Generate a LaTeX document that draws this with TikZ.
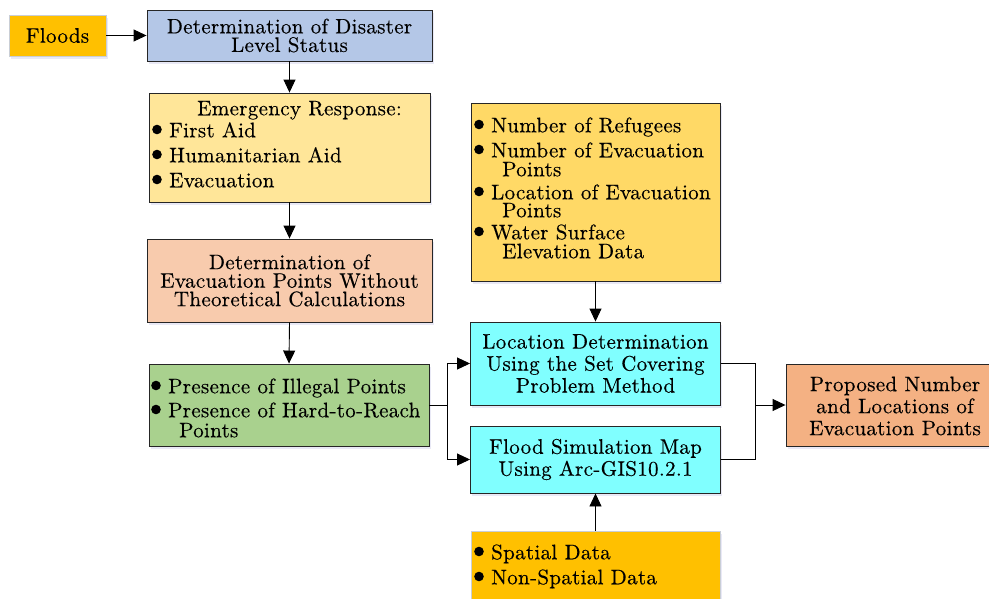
\documentclass[tikz,border=0pt]{standalone}
\usepackage{fontspec}
\setmainfont{lmroman10-regular.otf}[FakeBold=0.35, LetterSpace=1.5]
\usetikzlibrary{arrows.meta,shadows}
\definecolor{cFlood}{HTML}{FFC000}
\definecolor{cBlue}{HTML}{B4C7E7}
\definecolor{cEmer}{HTML}{FFE699}
\definecolor{cPeach}{HTML}{F8CBAD}
\definecolor{cGreen}{HTML}{A9D18E}
\definecolor{cYel}{HTML}{FFD966}
\definecolor{cCyan}{HTML}{80FFFF}
\definecolor{cProp}{HTML}{F4B183}
\definecolor{cEdge}{HTML}{C9CED6}
\newcommand\fz{\fontsize{21}{22}\selectfont}
\newcommand\fzt{\fontsize{21}{18.5}\selectfont}
\begin{document}
\begin{tikzpicture}[x=1pt,y=-1pt,
  box/.style={draw=black!85, line width=0.9pt, inner sep=0pt, align=center, font=\fz,
    drop shadow={opacity=0.12, shadow xshift=1.5pt, shadow yshift=-2.5pt, fill=blue!40!gray}},
  lbox/.style={box, draw=cEdge},
  lt/.style={anchor=west, inner sep=0pt, text height=15pt, text depth=2.5pt, font=\fz},
  dot/.style={fill=black},
  conn/.style={line width=0.9pt, draw=black},
  arr/.style={conn, -{Triangle[length=13pt,width=12pt]}}]
\useasboundingbox (0,0) rectangle (989,598);
\clip (0,0) rectangle (989,598);

% boxes
\node[lbox, fill=cFlood, minimum width=97pt, minimum height=41pt] (floods) at (57.5,35.5) {Floods};
\node[box, fill=cBlue, minimum width=285pt, minimum height=51pt, font=\fzt] (det) at (289.5,35.5) {Determination of Disaster\\Level Status};
\node[box, fill=cEmer, minimum width=281pt, minimum height=109pt] (emer) at (289.5,147.5) {};
\node[box, fill=cPeach, minimum width=285pt, minimum height=83pt, font=\fzt] (devac) at (289.5,280.5) {Determination of\\Evacuation Points Without\\Theoretical Calculations};
\node[box, fill=cGreen, minimum width=280pt, minimum height=82pt] (green) at (289,405) {};
\node[box, fill=cYel, minimum width=249pt, minimum height=178pt] (ydata) at (595.5,192) {};
\node[box, fill=cCyan, minimum width=250pt, minimum height=83pt] (loc) at (595.5,363.5) {Location Determination\\Using the Set Covering\\Problem Method};
\node[box, fill=cCyan, minimum width=250pt, minimum height=67pt] (flood) at (595.5,459.5) {Flood Simulation Map\\Using Arc-GIS10.2.1};
\node[lbox, fill=cFlood, minimum width=249pt, minimum height=80pt] (spatial) at (595.5,571) {};
\node[box, fill=cProp, minimum width=215pt, minimum height=82pt] (prop) at (893.5,405) {};
\node[align=center, inner sep=0pt, font=\fz] (proptxt) at (895,406) {Proposed Number\\and Locations of\\Evacuation Points};

% list texts
\node[lt, anchor=center] (emt) at (299.5,109) {Emergency Response:};
\node[lt] (e1) at (169,131) {First Aid};
\node[lt] (e2) at (169,156) {Humanitarian Aid};
\node[lt] (e3) at (169,181) {Evacuation};

\node[lt] (g1) at (168,387) {Presence of Illegal Points};
\node[lt] (g2) at (168,411) {Presence of Hard-to-Reach};
\node[lt] (g3) at (179,431) {Points};

\node[lt] (y1) at (491,126) {Number of Refugees};
\node[lt] (y2) at (491,151) {Number of Evacuation};
\node[lt] (y3) at (502,170) {Points};
\node[lt] (y4) at (491,193) {Location of Evacuation};
\node[lt] (y5) at (502,211) {Points};
\node[lt] (y6) at (491,233) {Water Surface};
\node[lt] (y7) at (502,252) {Elevation Data};

\node[lt] (s1) at (491,553) {Spatial Data};
\node[lt] (s2) at (491,578) {Non-Spatial Data};

% bullets
\foreach \n in {e1,e2,e3,g1,g2,y1,y2,y4,y6,s1,s2}
  \fill[dot] ([xshift=-12pt,yshift=1.5pt]\n.west) circle (4.8pt);

% connectors
\coordinate (jl) at (447,405);
\coordinate (jr) at (755,405);
\draw[arr] (floods.east) -- (det.west);
\draw[arr] (det.south) -- (emer.north);
\draw[arr] (emer.south) -- (devac.north);
\draw[arr] (devac.south) -- (green.north);
\draw[conn] (green.east) -- (jl);
\draw[arr] (jl) |- (loc.west);
\draw[arr] (jl) |- (flood.west);
\draw[arr] (ydata.south) -- (loc.north);
\draw[arr] (spatial.north) -- (flood.south);
\draw[conn] (loc.east) -| (jr);
\draw[conn] (flood.east) -| (jr);
\draw[arr] (jr) -- (prop.west);
\end{tikzpicture}
\end{document}
